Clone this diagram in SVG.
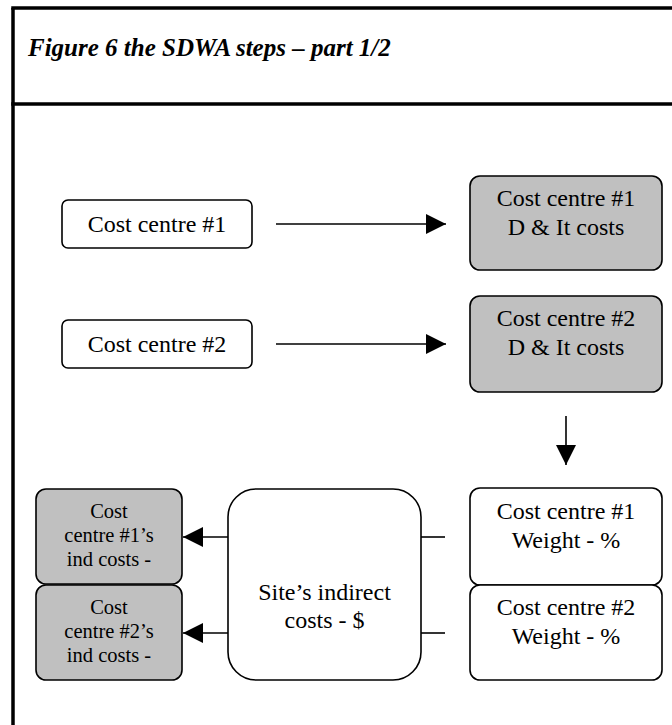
<svg xmlns="http://www.w3.org/2000/svg" width="672" height="725" viewBox="0 0 672 725">
<style>
.frame{stroke:#000;stroke-width:3.5;fill:none}
.box{stroke:#000;stroke-width:1.6}
.w{fill:#fff}
.g{fill:#c0c0c0}
.t{font-family:"Liberation Serif","Times New Roman",serif;font-size:24px;fill:#000;text-anchor:middle}
.s{font-size:20.5px}
.title{font-family:"Liberation Serif","Times New Roman",serif;font-size:25px;font-weight:bold;font-style:italic;fill:#000}
.ln{stroke:#000;stroke-width:1.6;fill:none}
</style>
<defs>
<marker id="ah" markerUnits="userSpaceOnUse" markerWidth="20" markerHeight="20" viewBox="0 0 20 20" refX="20" refY="10" orient="auto">
<path d="M0,0 L20,10 L0,20 Z" fill="#000"/>
</marker>
</defs>
<rect width="672" height="725" fill="#fff"/>
<g id="frame">
<line class="frame" x1="13" y1="8" x2="13" y2="725"/>
<line class="frame" x1="11.25" y1="8" x2="672" y2="8"/>
<line class="frame" x1="11.25" y1="104" x2="672" y2="104"/>
<text class="title" x="28" y="56">Figure 6 the SDWA steps – part 1/2</text>
</g>
<g id="cc1">
<rect class="box w" x="62" y="200" width="190" height="48" rx="6"/>
<text class="t" x="157" y="232">Cost centre #1</text>
</g>
<g id="cc2">
<rect class="box w" x="62" y="320" width="190" height="48" rx="6"/>
<text class="t" x="157" y="352">Cost centre #2</text>
</g>
<g id="dit1">
<rect class="box g" x="470" y="176" width="192" height="94" rx="10"/>
<text class="t" x="566" y="206">Cost centre #1</text>
<text class="t" x="566" y="235">D &amp; It costs</text>
</g>
<g id="dit2">
<rect class="box g" x="470" y="296" width="192" height="96" rx="10"/>
<text class="t" x="566" y="326">Cost centre #2</text>
<text class="t" x="566" y="355">D &amp; It costs</text>
</g>
<g id="wt1">
<rect class="box w" x="470" y="488" width="192" height="97" rx="10"/>
<text class="t" x="566" y="519">Cost centre #1</text>
<text class="t" x="566" y="548">Weight - %</text>
</g>
<g id="wt2">
<rect class="box w" x="470" y="585" width="192" height="95" rx="10"/>
<text class="t" x="566" y="615">Cost centre #2</text>
<text class="t" x="566" y="644">Weight - %</text>
</g>
<g id="site">
<rect class="box w" x="228" y="489" width="193" height="191" rx="28"/>
<text class="t" x="324.5" y="600">Site’s indirect</text>
<text class="t" x="324.5" y="628">costs - $</text>
</g>
<g id="ind1">
<rect class="box g" x="36" y="489" width="146" height="95" rx="10"/>
<text class="t s" x="109" y="518">Cost</text>
<text class="t s" x="109" y="542">centre #1’s</text>
<text class="t s" x="109" y="566">ind costs -</text>
</g>
<g id="ind2">
<rect class="box g" x="36" y="585" width="146" height="95" rx="10"/>
<text class="t s" x="109" y="614">Cost</text>
<text class="t s" x="109" y="638">centre #2’s</text>
<text class="t s" x="109" y="662">ind costs -</text>
</g>
<g id="connectors">
<line class="ln" x1="276" y1="224" x2="446" y2="224" marker-end="url(#ah)"/>
<line class="ln" x1="276" y1="344" x2="446" y2="344" marker-end="url(#ah)"/>
<line class="ln" x1="566" y1="416" x2="566" y2="465" marker-end="url(#ah)"/>
<line class="ln" x1="445" y1="537" x2="421" y2="537"/>
<line class="ln" x1="445" y1="633" x2="421" y2="633"/>
<line class="ln" x1="228" y1="537" x2="183" y2="537" marker-end="url(#ah)"/>
<line class="ln" x1="228" y1="633" x2="183" y2="633" marker-end="url(#ah)"/>
</g>
</svg>
